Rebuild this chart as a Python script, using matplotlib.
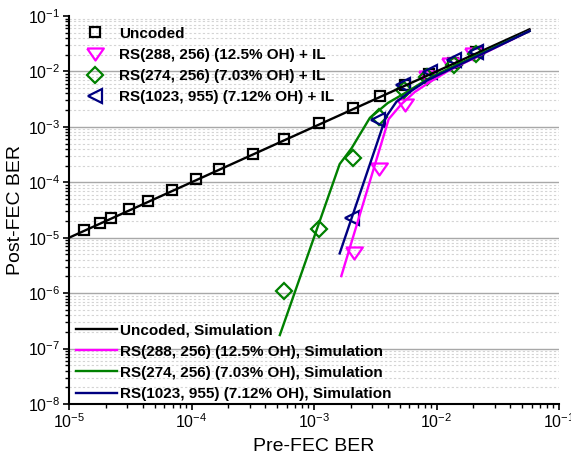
import numpy as np
import matplotlib
matplotlib.use('Agg')
import matplotlib.pyplot as plt
from matplotlib.ticker import LogLocator, NullFormatter

plt.rcParams['font.family'] = ['Liberation Sans', 'DejaVu Sans']
plt.rcParams['mathtext.fontset'] = 'custom'
plt.rcParams['mathtext.rm'] = 'Liberation Sans'
plt.rcParams['mathtext.it'] = 'Liberation Sans:italic'
plt.rcParams['mathtext.bf'] = 'Liberation Sans:bold'
plt.rcParams['mathtext.default'] = 'regular'

# ---------------- data ----------------
# measured points (+ IL)
unc_x = [1.33e-5, 1.79e-5, 2.19e-5, 3.1e-5, 4.4e-5, 6.9e-5, 1.08e-4, 1.68e-4,
         3.2e-4, 5.7e-4, 1.1e-3, 2.1e-3, 3.45e-3, 5.5e-3, 8.7e-3, 1.36e-2, 2.12e-2]
unc_y = [1.4e-5, 1.88e-5, 2.3e-5, 3.25e-5, 4.6e-5, 7.2e-5, 1.13e-4, 1.76e-4,
         3.3e-4, 6.0e-4, 1.15e-3, 2.15e-3, 3.55e-3, 5.8e-3, 9.1e-3, 1.42e-2, 2.2e-2]

rs288_x = [2.11e-3, 3.41e-3, 5.5e-3, 8.4e-3, 1.3e-2, 1.98e-2]
rs288_y = [5.3e-6, 1.73e-4, 2.5e-3, 8.0e-3, 1.35e-2, 2.1e-2]

rs274_x = [5.7e-4, 1.1e-3, 2.08e-3, 3.4e-3, 5.4e-3, 8.3e-3, 1.38e-2, 2.12e-2]
rs274_y = [1.09e-6, 1.41e-5, 2.7e-4, 1.5e-3, 4.6e-3, 8.0e-3, 1.3e-2, 2.06e-2]

rs1023_x = [2.03e-3, 3.33e-3, 5.3e-3, 8.8e-3, 1.38e-2, 2.11e-2]
rs1023_y = [2.26e-5, 1.33e-3, 5.7e-3, 9.8e-3, 1.6e-2, 2.25e-2]

# simulation curves
sim_unc_x = [1e-5, 5.75e-2]
sim_unc_y = [1e-5, 5.75e-2]

sim288_x = [1.67e-3, 4.07e-3, 5.18e-3, 6.64e-3, 8.82e-3, 1.28e-2, 5.75e-2]
sim288_y = [2.03e-6, 1.38e-3, 2.58e-3, 4.25e-3, 6.44e-3, 1.06e-2, 5.36e-2]

sim274_x = [5.26e-4, 1.62e-3, 2.03e-3, 2.85e-3, 4.0e-3, 5.72e-3, 8.48e-3, 1.28e-2, 5.75e-2]
sim274_y = [1.75e-7, 2.13e-4, 4.14e-4, 1.44e-3, 2.69e-3, 4.25e-3, 7.3e-3, 1.15e-2, 5.36e-2]

sim1023_x = [1.62e-3, 3.86e-3, 4.71e-3, 6.03e-3, 8.48e-3, 1.28e-2, 5.75e-2]
sim1023_y = [5.2e-6, 1.50e-3, 2.84e-3, 4.25e-3, 7.0e-3, 1.08e-2, 5.36e-2]

marker_labels = ['Uncoded', 'RS(288, 256) (12.5% OH) + IL',
                 'RS(274, 256) (7.03% OH) + IL', 'RS(1023, 955) (7.12% OH) + IL']
sim_labels = ['Uncoded, Simulation', 'RS(288, 256) (12.5% OH), Simulation',
              'RS(274, 256) (7.03% OH), Simulation', 'RS(1023, 955) (7.12% OH), Simulation']

C_BLACK = '#000000'
C_MAG = '#FF00FF'
C_GREEN = '#008000'
C_NAVY = '#000080'

# ---------------- figure ----------------
W, H = 571, 458
fig = plt.figure(figsize=(W / 100, H / 100), dpi=100)
L, R, T, B = 69, 559, 16, 404
ax = fig.add_axes([L / W, 1 - B / H, (R - L) / W, (B - T) / H])
ax.set_xscale('log')
ax.set_yscale('log')
ax.set_xlim(1e-5, 1e-1)
ax.set_ylim(1e-8, 1e-1)

tri_down = [(-1, 0.72), (1, 0.72), (0, -0.72), (-1, 0.72)]

mk = dict(ls='none', mfc='none', mew=1.6)
h_unc = ax.plot(unc_x, unc_y, marker='s', ms=7.4, mec=C_BLACK, **mk)[0]
h_288 = ax.plot(rs288_x, rs288_y, marker=tri_down, ms=12, mec=C_MAG, **mk)[0]
h_274 = ax.plot(rs274_x, rs274_y, marker='D', ms=7.8, mec=C_GREEN, **mk)[0]
h_1023 = ax.plot(rs1023_x, rs1023_y, marker='<', ms=10.5, mec=C_NAVY, **mk)[0]

ln = dict(lw=1.7)
s_unc = ax.plot(sim_unc_x, sim_unc_y, color=C_BLACK, **ln)[0]
s_288 = ax.plot(sim288_x, sim288_y, color=C_MAG, **ln)[0]
s_274 = ax.plot(sim274_x, sim274_y, color=C_GREEN, **ln)[0]
s_1023 = ax.plot(sim1023_x, sim1023_y, color=C_NAVY, **ln)[0]

# axes styling
for s in ['top', 'right']:
    ax.spines[s].set_visible(False)
for s in ['left', 'bottom']:
    ax.spines[s].set_linewidth(1.5)

for axis in (ax.xaxis, ax.yaxis):
    axis.set_major_locator(LogLocator(base=10, numticks=20))
    axis.set_minor_locator(LogLocator(base=10, subs=np.arange(2, 10), numticks=100))
    axis.set_minor_formatter(NullFormatter())

ax.tick_params(which='major', direction='out', length=4.2, width=1.2, labelsize=11.5, pad=2)
ax.tick_params(which='minor', direction='out', length=2.8, width=1.0)

ax.yaxis.grid(True, which='major', color='#a8a8a8', lw=1.0, ls='-')
ax.yaxis.grid(True, which='minor', color='#d4d4d4', lw=0.8, ls=(0, (2, 2)))
ax.xaxis.grid(False, which='both')
ax.set_axisbelow(True)

ax.set_xlabel('Pre-FEC BER', fontsize=14, labelpad=5)
ax.set_ylabel('Post-FEC BER', fontsize=14, labelpad=3)

fs = 11
em = fs * 100 / 72
leg1 = ax.legend([h_unc, h_288, h_274, h_1023], marker_labels,
                 loc='upper left', bbox_to_anchor=((95 - em / 2) / W, 1 - (32.7 - 6.0) / H),
                 bbox_transform=fig.transFigure, frameon=False,
                 prop=dict(weight='bold', size=fs), handlelength=1.0,
                 handletextpad=(119 - 95 - em / 2) / em, labelspacing=0.47,
                 borderpad=0, borderaxespad=0)
ax.add_artist(leg1)
leg2 = ax.legend([s_unc, s_288, s_274, s_1023], sim_labels,
                 loc='lower left', bbox_to_anchor=(76 / W, 1 - (392.3 + 8.6) / H),
                 bbox_transform=fig.transFigure, frameon=False,
                 prop=dict(weight='bold', size=fs), handlelength=41 / em,
                 handletextpad=3 / em, labelspacing=0.47,
                 borderpad=0, borderaxespad=0)

fig.canvas.draw()
for tick in ax.yaxis.get_major_ticks():
    if abs(np.log10(tick.get_loc()) + 1) < 1e-6:
        tick.gridline.set_visible(False)

fig.savefig('out.png', dpi=100)
